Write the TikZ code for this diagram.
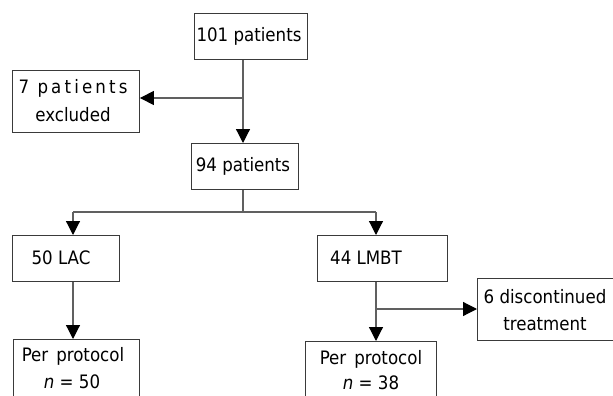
\documentclass[tikz,border=0pt]{standalone}
\usepackage{fontspec}
\setmainfont{DejaVu Sans Condensed}
\usetikzlibrary{arrows.meta}
\definecolor{boxline}{HTML}{3A3A3A}
\definecolor{conn}{HTML}{606060}
\tikzset{
  box/.style={draw=boxline, line width=0.9pt, inner sep=0pt, anchor=north west},
  lbl/.style={inner sep=0pt, font=\fontsize{18.5}{21}\selectfont},
  link/.style={draw=conn, line width=1.2pt},
  arr/.style={link, -{Triangle[length=14pt,width=14pt,fill=black,color=black]}}
}
\begin{document}
\begin{tikzpicture}[x=1pt,y=-1pt]
\useasboundingbox (0,0) rectangle (613,396);
\begin{scope}
\clip (0,0) rectangle (613,396);
% boxes
\node[box, minimum width=113pt, minimum height=46pt] (b101) at (194,13) {};
\node[box, minimum width=127pt, minimum height=62pt] (bex) at (12,70) {};
\node[box, minimum width=107pt, minimum height=46pt] (b94) at (191,143) {};
\node[box, minimum width=107pt, minimum height=46pt] (blac) at (12,235) {};
\node[box, minimum width=130pt, minimum height=46pt] (blmbt) at (317,235) {};
\node[box, minimum width=150pt, minimum height=62pt] (bdis) at (477,278) {};
\node[box, minimum width=126pt, minimum height=80pt] (bpp1) at (13,339) {};
\node[box, minimum width=131pt, minimum height=80pt] (bpp2) at (305,341) {};
\end{scope}
% texts
\node[lbl] (t101) at (249,36) {101 patients};
\node[lbl] (tex1) at (73,88) {\addfontfeature{LetterSpace=17}7 patients};
\node[lbl] (tex2) at (73,115) {excluded};
\node[lbl] (t94) at (243,166) {94 patients};
\node[lbl] (tlac) at (61,258) {50 LAC};
\node[lbl] (tlmbt) at (366,258) {44 LMBT};
\node[lbl] (tdis1) at (545,297) {6 discontinued};
\node[lbl] (tdis2) at (545,324) {treatment};
\node[lbl] (tpp1a) at (73,356) {Per\hspace{8pt}protocol};
\node[lbl] (tpp1b) at (72,382) {\textit{n} = 50};
\node[lbl] (tpp2a) at (371,359) {Per\hspace{8pt}protocol};
\node[lbl] (tpp2b) at (371,383) {\textit{n} = 38};
% junction coordinates
\coordinate (j1) at (243,98);
\coordinate (j2) at (243,212);
\coordinate (jl) at (73,212);
\coordinate (jr) at (376,212);
\coordinate (j3) at (376,309);
% connectors
\draw[link] (b101.south -| j1) -- (j1);
\draw[arr] (j1) -- (j1 -| bex.east);
\draw[arr] (j1) -- (j1 |- b94.north);
\draw[link] (b94.south -| j2) -- (j2);
\draw[link] (jl) -- (jr);
\draw[arr] (jl) -- (jl |- blac.north);
\draw[arr] (jr) -- (jr |- blmbt.north);
\draw[arr] (blac.south -| jl) -- (jl |- bpp1.north);
\draw[link] (blmbt.south -| j3) -- (j3);
\draw[arr] (j3) -- (j3 |- bpp2.north);
\draw[arr] (j3) -- (j3 -| bdis.west);
\end{tikzpicture}
\end{document}
